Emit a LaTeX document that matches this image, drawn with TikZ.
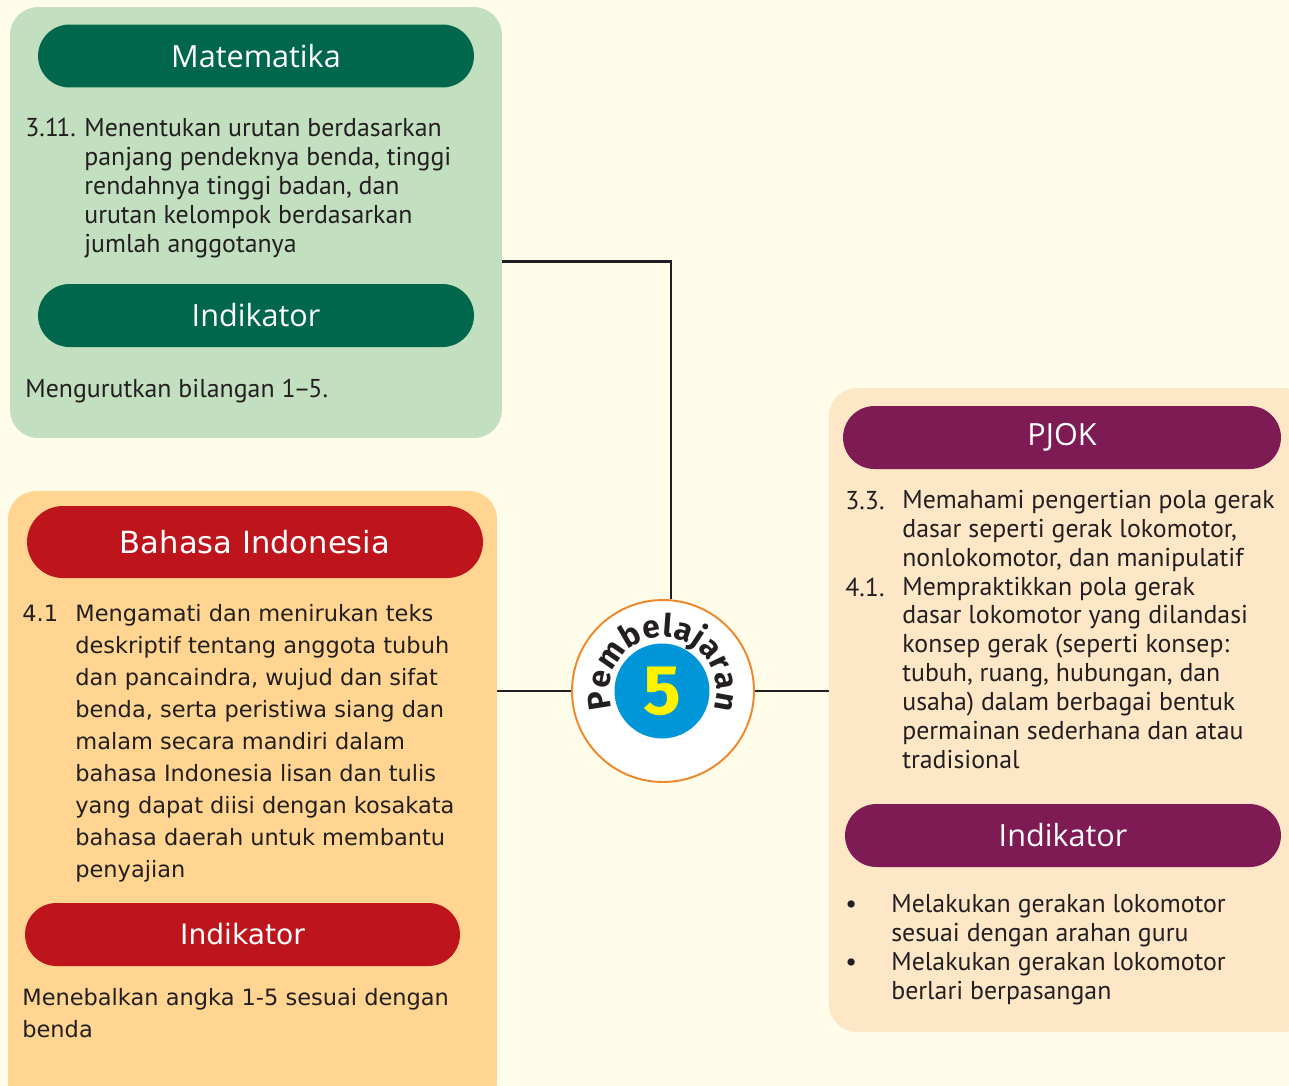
\documentclass[tikz,border=0pt]{standalone}
\usepackage{fontspec}
\setmainfont{PT Sans}[Numbers=Proportional]
\newfontfamily\bifont{DejaVu Sans}
\newfontfamily\headfont{Open Sans}
\newfontfamily\numfont{Fira Sans}
\usetikzlibrary{decorations.text}
\definecolor{PaperBg}{HTML}{FFFCE9}
\definecolor{MatLight}{HTML}{C2E0C0}
\definecolor{MatDark}{HTML}{00674D}
\definecolor{BiLight}{HTML}{FFD591}
\definecolor{BiDark}{HTML}{BE141C}
\definecolor{PjLight}{HTML}{FEE7C7}
\definecolor{PjDark}{HTML}{7E1B55}
\definecolor{RingOrange}{HTML}{F0862A}
\definecolor{NumBlue}{HTML}{0096D7}
\definecolor{NumYellow}{HTML}{FFF200}
\definecolor{Ink}{HTML}{231F20}
\tikzset{
  panel/.style = {rectangle, rounded corners=0.56cm, inner sep=0pt},
  pan_m/.style = {panel, fill=MatLight, minimum width=9.84cm, minimum height=8.62cm},% panneau maths
  pan_b/.style = {panel, fill=BiLight, minimum width=9.78cm, minimum height=12.38cm},% panneau bahasa
  pan_p/.style = {panel, fill=PjLight, minimum width=9.62cm, minimum height=12.88cm},% panneau pjok
  head/.style = {rectangle, rounded corners=0.63cm, inner sep=0pt, text=white,
    minimum height=1.26cm, minimum width=8.72cm},
  head_m/.style = {head, fill=MatDark, font=\headfont\fontsize{17.4}{20}\selectfont},
  head_b/.style = {head, fill=BiDark, font=\bifont\fontsize{17.4}{20}\selectfont},
  head_p/.style = {head, fill=PjDark, font=\headfont\fontsize{17.4}{20}\selectfont},
  txt/.style = {inner sep=0pt, anchor=base west, align=left, text=Ink},% base = derniere ligne
  txt_m/.style = {txt, font=\fontsize{14.7}{16.5}\selectfont},
  txt_b/.style = {txt, font=\bifont\fontsize{12.8}{18.2}\selectfont},
  txt_p/.style = {txt, font=\fontsize{14.7}{16.4}\selectfont},
  link/.style = {draw=Ink, line width=1.4pt}
}

\begin{document}
\begin{tikzpicture}[x=0.02cm, y=-0.02cm]
  \path[use as bounding box, fill=PaperBg] (0,0) rectangle (1289,1086);
  \clip (0,0) rectangle (1289,1086);
  % panneaux
  \node [pan_m] (mat) at (256,222.5) {};
  \node [pan_b] (bind) at (252.5,800.5) {};
  \node [pan_p] (pjok) at (1069.5,710) {};
  % matematika
  \node [head_m] (mat_h) at (256,56) {Matematika};
  \node [txt_m] (mat_n) at (25,136) {3.1\kern-1.5pt1.};
  \node [txt_m] (mat_t) at (84,252) {Menentukan urutan berdasarkan\\panjang pendeknya benda, tinggi\\rendahnya tinggi badan, dan\\urutan kelompok berdasarkan\\jumlah anggotanya};
  \node [head_m] (mat_i) at (256,315.5) {Indikator};
  \node [txt_m] (mat_it) at (25,397) {Mengurutkan bilangan 1\kern-1.2pt–\kern-1.2pt5.};
  % bahasa indonesia
  \node [head_b, minimum width=9.12cm, minimum height=1.44cm, rounded corners=0.72cm] (bind_h) at (255,542) {Bahasa Indonesia};
  \node [txt_b] (bind_n) at (22,621) {4.1};
  \node [txt_b] (bind_t) at (75,877) {Mengamati dan menirukan teks\\deskriptif tentang anggota tubuh\\dan pancaindra, wujud dan sifat\\benda, serta peristiwa siang dan\\malam secara mandiri dalam\\bahasa Indonesia lisan dan tulis\\yang dapat diisi dengan kosakata\\bahasa daerah untuk membantu\\penyajian};
  \node [head_b, minimum width=8.7cm, font=\bifont\fontsize{16}{19}\selectfont] (bind_i) at (242.5,934.5) {Indikator};
  \node [txt_b] (bind_it) at (22,1037) {Menebalkan angka 1-5 sesuai dengan\\benda};
  % pjok
  \node [head_p, minimum width=8.76cm] (pjok_h) at (1062,437.5) {PJOK};
  \node [txt_p] (pjok_n1) at (845,509) {3.3.};
  \node [txt_p] (pjok_n2) at (845,596) {4.1.};
  \node [txt_p] (pjok_t) at (902,768) {Memahami pengertian pola gerak\\dasar seperti gerak lokomotor,\\nonlokomotor, dan manipulatif\\Mempraktikkan pola gerak\\dasar lokomotor yang dilandasi\\konsep gerak (seperti konsep:\\tubuh, ruang, hubungan, dan\\usaha) dalam berbagai bentuk\\permainan sederhana dan atau\\tradisional};
  \node [head_p] (pjok_i) at (1063,835.5) {Indikator};
  \node [txt_p] (pjok_b1) at (845,912) {\textbullet};
  \node [txt_p] (pjok_b2) at (845,970) {\textbullet};
  \node [txt_p] (pjok_it) at (891,999) {Melakukan gerakan lokomotor\\sesuai dengan arahan guru\\Melakukan gerakan lokomotor\\berlari berpasangan};
  % pembelajaran 5
  \node [circle, draw=RingOrange, line width=1.1pt, fill=white, minimum size=3.64cm, inner sep=0pt] (pemb) at (663,691) {};
  \node [circle, fill=NumBlue, minimum size=1.9cm, inner sep=0pt, text=NumYellow,
    font=\numfont\bfseries\fontsize{40}{40}\selectfont] (num) at (662,691) {5};
  \path [decorate, decoration={text along path, text align={fit to path},
    text={|\numfont\bfseries\fontsize{18}{18}\selectfont\color{Ink}|Pembelajaran}}]
    (663,691) ++(161:54) arc [start angle=161, end angle=380, radius=54];
  % liaisons
  \draw [link] ([yshift=-0.78cm]mat.east) -| ([xshift=0.16cm]pemb.north);
  \draw [link] (pemb.west) -- (pemb.west -| bind.east);
  \draw [link] (pemb.east) -- (pemb.east -| pjok.west);
\end{tikzpicture}
\end{document}
